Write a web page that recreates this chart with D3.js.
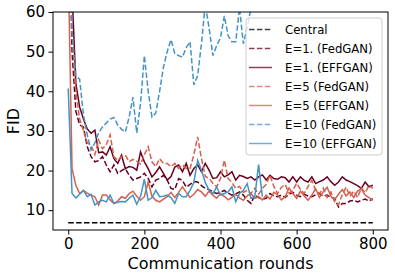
<!DOCTYPE html>
<html><head><meta charset="utf-8">
<script src="https://cdn.jsdelivr.net/npm/d3@7"></script>
<style>body{margin:0;background:#fff;} svg{display:block;font-family:"DejaVu Sans",sans-serif;}</style>
</head><body><svg id="c" width="395" height="278"></svg>
<script>
// ---- data ----
const rounds = d3.range(0, 801, 10);           // communication rounds sampled every 10
const rounds10 = d3.range(0, 511, 10);         // E=10 runs stop at ~510
const centralValue = 6.8;
const e1Fed = [95, 50, 35, 31.5, 31, 26, 23.5, 22.2, 22.5, 23.5, 21.4,
  19.7, 21.4, 19.3, 20, 20.5, 18.8, 17.6, 18, 18.4, 19.3,
  18, 15.9, 17.6, 18, 18.8, 17.6, 15.5, 15.2, 18, 17.5,
  15.8, 16.5, 17.2, 17.1, 16.2, 15.5, 15.2, 14.6, 14.2, 14.5,
  15, 14.3, 13.8, 14.1, 14.6, 13.8, 12.5, 11.7, 13.8, 13.2,
  12.8, 13, 14.2, 13.6, 13.4, 13.8, 13.2, 14, 14.5, 13.8,
  13.4, 14, 13.6, 13.4, 13.9, 14.2, 13.5, 13.8, 13.2, 13,
  10.8, 11.7, 11.7, 12.3, 12.5, 12.1, 12.5, 12.8, 12.3, 12.9];
const e1Eff = [110, 65, 42, 36, 33, 30.5, 29.4, 30.2, 24.5, 24.7, 23.9,
  26, 23, 21.8, 23.9, 20.5, 21, 20.8, 20.1, 24.7, 22.2,
  20.5, 18.4, 19.5, 20.9, 19.3, 17.6, 18.5, 20.9, 21.4, 19.7,
  21.8, 18.8, 20.5, 21.4, 19.7, 21.8, 20.1, 18, 18.2, 19.7,
  18.4, 18.9, 19.7, 17.6, 18.8, 18.5, 18, 18.4, 17.6, 18.4,
  18.9, 17.6, 18.8, 18, 17.8, 18.4, 18.2, 17.1, 18.4, 17.1,
  18.4, 17.5, 17.1, 18.4, 16.7, 17.2, 17.6, 18.4, 17.2, 16.3,
  17.1, 18.4, 17.6, 17.2, 16.7, 16.2, 15.5, 17.1, 15.9, 16.3];
const e5Fed = [95, 55, 40, 33, 30, 27, 26.4, 24, 27.7, 25.5, 26.5,
  29, 23.5, 22.6, 23.5, 23.9, 22.2, 22.8, 22.4, 21.6, 24,
  26, 22.2, 21, 23, 21.8, 21.8, 21, 21.8, 20.5, 21.4,
  20.5, 20.5, 24, 28.5, 23, 18.5, 18, 16.8, 15.9, 18,
  22.6, 18, 17, 15.5, 16, 14.5, 15, 14.2, 15.5, 14,
  15.5, 16.5, 18.8, 16, 14.2, 15.8, 16.5, 14.3, 15, 16.8,
  15.3, 14.2, 16, 17.5, 15, 14.2, 15.6, 13.2, 14.6, 12,
  11.3, 14, 15.8, 13.5, 14.8, 13.2, 15.6, 14.4, 16.2, 15.5];
const e5Eff = [72, 20.5, 16.3, 14.2, 15, 14.3, 13.8, 13.4, 11.3, 13.8, 13.8,
  12.6, 11.7, 12.3, 13.4, 13, 14.2, 14.8, 13.5, 12.5, 13.4,
  17.1, 13.5, 12.5, 12.1, 12.8, 13.4, 14.5, 13.2, 14.5, 15.9,
  14.5, 13.2, 14, 15.2, 14.6, 13.5, 14.8, 13.8, 13, 14.2,
  13.5, 12.6, 13.2, 14, 13.1, 12.5, 13.6, 14.2, 13, 13.4,
  12.6, 13.8, 12.8, 14.5, 13.9, 12.6, 13.4, 15.6, 14.2, 13,
  14.8, 13.6, 12.5, 13.8, 15.4, 13.2, 14.6, 15.8, 13.5, 12.7,
  14, 15.2, 13.6, 14.6, 13.2, 14.8, 15.4, 13.8, 13.2, 12.5];
const e10Fed = [95, 55, 44, 43, 34, 29, 25.2, 27, 29.5, 31, 32,
  33, 33.4, 31.5, 30.4, 29.7, 33.5, 38.5, 29.5, 37, 49,
  40, 33.5, 34.5, 40, 46, 50, 53, 49.5, 49, 48.6,
  51, 52.5, 41.6, 44, 52, 62, 56, 49, 51.5, 53.5,
  59, 54, 52.5, 52.5, 61, 52, 56, 61, 65, 64, 66];
const e10Eff = [40.7, 14.2, 13.1, 14, 15, 13.4, 14, 11.3, 12.1, 12.5, 12.1,
  13.8, 11.7, 12, 12.2, 12.1, 13, 13.8, 11.5, 13.5, 17.8,
  12.5, 13.2, 15, 13.4, 13.5, 13.8, 13.2, 11.7, 14.2, 13.4,
  13.4, 15, 17, 22.6, 20.1, 17, 15, 14.2, 15.9, 13.8,
  14.2, 14.6, 15.9, 12.1, 14.2, 15, 16.7, 13, 13.2, 21.5, 13.4];
const seriesNames = ["Central", "E=1. (FedGAN)", "E=1. (EFFGAN)", "E=5 (FedGAN)", "E=5 (EFFGAN)", "E=10 (FedGAN)", "E=10 (EFFGAN)"];
const xTicks = [0, 200, 400, 600, 800];
const yTicks = [10, 20, 30, 40, 50, 60];

// ---- styles ----
const colors = ["#000000", "#67001f", "#67001f", "#d6604d", "#d6604d", "#4393c3", "#4393c3"];
const dashed = [true, true, false, true, false, true, false];

const series = [
  {xs: [0, 800], ys: [centralValue, centralValue]},
  {xs: rounds, ys: e1Fed},
  {xs: rounds, ys: e1Eff},
  {xs: rounds, ys: e5Fed},
  {xs: rounds, ys: e5Eff},
  {xs: rounds10, ys: e10Fed},
  {xs: rounds10, ys: e10Eff}
];

const svg = d3.select("#c");
const L = 53, R = 388, T = 12, B = 230;
const x = d3.scaleLinear().domain([-40, 840]).range([L, R]);
const y = d3.scaleLinear().domain([5, 60]).range([B, T]);

svg.append("defs").append("clipPath").attr("id", "clip")
  .append("rect").attr("x", L).attr("y", T).attr("width", R - L).attr("height", B - T);

const line = d3.line().x(d => x(d[0])).y(d => y(d[1]));
const g = svg.append("g").attr("clip-path", "url(#clip)");
series.forEach((s, i) => {
  g.append("path")
    .datum(s.xs.map((v, j) => [v, s.ys[j]]))
    .attr("d", line)
    .attr("fill", "none")
    .attr("stroke", colors[i])
    .attr("stroke-width", 1.5)
    .attr("stroke-dasharray", dashed[i] ? "5.5,2.4" : null);
});

// axes
const xa = svg.append("g").attr("transform", `translate(0,${B})`)
  .call(d3.axisBottom(x).tickValues(xTicks).tickSize(4.5).tickPadding(3.5));
const ya = svg.append("g").attr("transform", `translate(${L},0)`)
  .call(d3.axisLeft(y).tickValues(yTicks).tickSize(4.5).tickPadding(3.5));
[xa, ya].forEach(a => {
  a.select(".domain").remove();
  a.selectAll("line").attr("stroke", "#000").attr("stroke-width", 1);
  a.selectAll("text").attr("fill", "#000").style("font-size", "15px").style("font-family", "DejaVu Sans");
});

svg.append("rect").attr("x", L).attr("y", T).attr("width", R - L).attr("height", B - T)
  .attr("fill", "none").attr("stroke", "#000").attr("stroke-width", 1);

svg.append("text").attr("x", (L + R) / 2).attr("y", 268.5).attr("text-anchor", "middle")
  .style("font-size", "16px").text("Communication rounds");
svg.append("text").attr("transform", `translate(18.5,${(T + B) / 2}) rotate(-90)`).attr("text-anchor", "middle")
  .style("font-size", "16px").text("FID");

// legend
const lg = svg.append("g");
lg.append("rect").attr("x", 246).attr("y", 18).attr("width", 136).attr("height", 137).attr("rx", 3)
  .attr("fill", "#fff").attr("fill-opacity", 0.8).attr("stroke", "#cccccc").attr("stroke-width", 1);
seriesNames.forEach((name, i) => {
  const cy = 29.5 + 19 * i;
  lg.append("line").attr("x1", 249).attr("x2", 272).attr("y1", cy).attr("y2", cy)
    .attr("stroke", colors[i]).attr("stroke-width", 1.5).attr("stroke-opacity", 0.75)
    .attr("stroke-dasharray", dashed[i] ? "5.5,2.4" : null);
  lg.append("text").attr("x", 285).attr("y", cy).attr("dy", "0.35em")
    .style("font-size", "11.7px").attr("fill", "#000").text(name);
});
</script></body></html>
